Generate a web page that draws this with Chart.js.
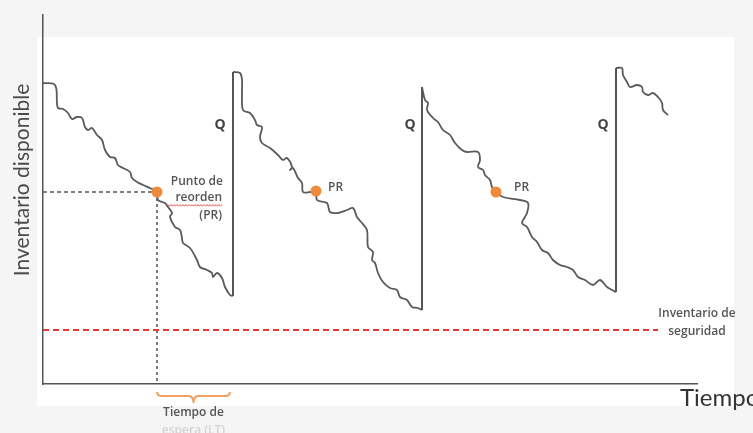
<!DOCTYPE html>
<html>
<head>
<meta charset="utf-8">
<script src="https://cdn.jsdelivr.net/npm/chart.js@4.4.1/dist/chart.umd.min.js"></script>
<style>
  html, body { margin: 0; padding: 0; background: #f4f4f4; }
  #wrap { width: 753px; height: 433px; }
</style>
</head>
<body>
<div id="wrap"><canvas id="c" width="753" height="433"></canvas></div>
<script>
// ---- Data (x = time units, y = inventory units) ----
const cycle1X = [0,12,14,15,20,25,29,34,39,42,45,49,54,59,62,67,72,75,80,87,89,94,100,107,114,115,122,125,129,127,132,137,139,140,147,154,157,164,169,170,174,179,182,187,190];
const cycle1Y = [301,299,281,276,275,271,265,267,266,257,254,256,249,244,234,227,226,219,216,212,206,202,199,196,192,184,181,177,171,167,157,154,146,141,136,124,117,114,111,107,111,106,97,89,88];

const cycle2X = [190,197,199,199,200,207,212,214,219,217,219,227,235,240,244,249,247,250,255,259,260,267,273,274,284,287,295,304,310,314,319,324,325,330,329,332,335,340,347,354,357,364,369,375,379];
const cycle2Y = [312,311,304,291,274,271,264,259,257,247,241,236,229,224,226,217,214,216,206,201,192,192,193,184,181,172,171,174,176,167,161,154,137,132,124,121,111,102,96,94,87,84,77,76,74];

const cycle3X = [379,382,385,384,390,395,400,407,412,419,424,435,437,435,440,442,447,449,453,460,477,485,484,479,484,489,494,499,505,510,517,524,530,535,542,550,557,564,569,573];
const cycle3Y = [297,284,281,274,266,262,254,249,241,234,232,232,224,217,214,209,204,197,192,187,184,181,171,161,157,147,142,134,131,124,119,117,114,107,104,99,104,97,94,92];

const cycle4X = [573,579,580,584,587,594,599,600,605,610,615,619,620,625];
const cycle4Y = [316,316,309,302,297,299,297,292,289,291,287,281,274,269];

// replenishment jumps (order quantity Q arrives)
const jumpX = [190, 379, 573];
const jumpLow = [88, 74, 92];
const jumpHigh = [312, 297, 316];

// reorder points (PR)
const prX = [114, 273, 453];
const prY = [192, 193, 192];

const safetyStock = 54;       // inventario de seguridad
const safetyEndX = 615;
const leadTimeStart = 114;    // PR1 time
const leadTimeEnd = 187;      // arrival of order

const xMax = 654, yMax = 369;

// ---- helpers ----
const pts = (xs, ys) => xs.map((x, i) => ({ x, y: ys[i] }));
const lineColor = '#5a5a5a';

const datasets = [
  { // PR dots (index 0 -> drawn on top)
    data: pts(prX, prY), showLine: false, pointRadius: 5.5, pointHoverRadius: 5.5,
    pointBackgroundColor: '#ef8a3a', pointBorderColor: '#ef8a3a', pointBorderWidth: 0
  },
  ...[[cycle1X, cycle1Y],[cycle2X, cycle2Y],[cycle3X, cycle3Y],[cycle4X, cycle4Y]].map(([xs, ys]) => ({
    data: pts(xs, ys), showLine: true, borderColor: lineColor, borderWidth: 1.8,
    tension: 0.35, pointRadius: 0, fill: false
  })),
  ...jumpX.map((x, i) => ({
    data: [{ x, y: jumpLow[i] }, { x, y: jumpHigh[i] }], showLine: true,
    borderColor: '#555', borderWidth: 2, tension: 0, pointRadius: 0
  })),
  { // safety stock
    data: [{ x: 0, y: safetyStock }, { x: safetyEndX, y: safetyStock }], showLine: true,
    borderColor: '#e53935', borderWidth: 2, borderDash: [6, 4], pointRadius: 0, tension: 0
  },
  { // horizontal dashed to reorder point
    data: [{ x: 0, y: prY[0] }, { x: prX[0], y: prY[0] }], showLine: true,
    borderColor: '#555', borderWidth: 1.4, borderDash: [4, 3], pointRadius: 0, tension: 0
  },
  { // vertical dashed from reorder point
    data: [{ x: prX[0], y: prY[0] }, { x: prX[0], y: 0 }], showLine: true,
    borderColor: '#444', borderWidth: 1.4, borderDash: [3, 3], pointRadius: 0, tension: 0
  }
];

const bgPlugin = {
  id: 'bg',
  beforeDraw(chart) {
    const ctx = chart.ctx;
    ctx.save();
    ctx.fillStyle = '#f5f5f5';
    ctx.fillRect(0, 0, chart.width, chart.height);
    ctx.fillStyle = '#ffffff';
    ctx.fillRect(37, 37, 697, 369);
    ctx.restore();
  }
};

const textPlugin = {
  id: 'texts',
  afterDraw(chart) {
    const ctx = chart.ctx;
    const xs = chart.scales.x, ys = chart.scales.y;
    ctx.save();
    // Y axis title
    ctx.save();
    ctx.translate(22, 180);
    ctx.rotate(-Math.PI / 2);
    ctx.font = '21px Lato';
    ctx.fillStyle = '#4a4a4a';
    ctx.textAlign = 'center';
    ctx.textBaseline = 'middle';
    ctx.fillText('Inventario disponible', 0, 0);
    ctx.restore();

    // X axis title (clipped by the right edge like the original)
    ctx.font = '24px Lato';
    ctx.fillStyle = '#333';
    ctx.textAlign = 'left';
    ctx.textBaseline = 'alphabetic';
    ctx.fillText('Tiempo', 680, 406);

    // Q labels
    ctx.font = 'bold 14px "Open Sans"';
    ctx.fillStyle = '#444';
    ctx.textAlign = 'center';
    ctx.textBaseline = 'middle';
    const qOff = [-13, -12, -13];
    jumpX.forEach((x, i) => ctx.fillText('Q', xs.getPixelForValue(x) + qOff[i], 125));

    // PR labels
    ctx.font = '600 12px "Open Sans"';
    ctx.fillStyle = '#555';
    ctx.textAlign = 'left';
    ctx.fillText('PR', xs.getPixelForValue(prX[1]) + 12, 188);
    ctx.fillText('PR', xs.getPixelForValue(prX[2]) + 18, 188);

    // Punto de reorden (PR)
    ctx.textAlign = 'right';
    ctx.fillText('Punto de', 223, 182);
    ctx.fillText('reorden', 222, 198);
    ctx.fillText('(PR)', 222, 216);
    // red spell-check squiggle under "reorden"
    ctx.strokeStyle = '#e05050';
    ctx.lineWidth = 1;
    ctx.beginPath();
    for (let x = 168; x <= 223; x += 1.5) {
      const y = 205 + ((Math.round((x - 168) / 1.5) % 2) ? 0.8 : -0.2);
      if (x === 168) ctx.moveTo(x, y); else ctx.lineTo(x, y);
    }
    ctx.stroke();

    // Inventario de seguridad
    ctx.textAlign = 'center';
    ctx.fillStyle = '#555';
    ctx.font = '600 12px "Open Sans"';
    ctx.fillText('Inventario de', 697, 314);
    ctx.fillText('seguridad', 697, 332);

    // Lead-time brace
    const x0 = xs.getPixelForValue(leadTimeStart), x1 = xs.getPixelForValue(leadTimeEnd);
    const xm = (x0 + x1) / 2, yb = ys.getPixelForValue(0);
    ctx.strokeStyle = '#f0a060';
    ctx.lineWidth = 2;
    ctx.beginPath();
    ctx.moveTo(x0, yb + 8);
    ctx.quadraticCurveTo(x0, yb + 12, x0 + 5, yb + 12);
    ctx.lineTo(xm - 5, yb + 12);
    ctx.quadraticCurveTo(xm, yb + 12, xm, yb + 19);
    ctx.quadraticCurveTo(xm, yb + 12, xm + 5, yb + 12);
    ctx.lineTo(x1 - 5, yb + 12);
    ctx.quadraticCurveTo(x1, yb + 12, x1, yb + 8);
    ctx.stroke();

    ctx.font = '600 12px "Open Sans"';
    ctx.fillStyle = '#555';
    ctx.textAlign = 'center';
    ctx.fillText('Tiempo de', xm, 413);
    ctx.fillStyle = '#d3d3d3';
    ctx.fillText('espera (LT)', xm, 431);
    ctx.restore();
  }
};

new Chart(document.getElementById('c'), {
  type: 'scatter',
  data: { datasets },
  options: {
    responsive: false,
    animation: false,
    events: [],
    layout: { padding: { left: 43, top: 15, right: 56, bottom: 49 } },
    plugins: { legend: { display: false }, tooltip: { enabled: false } },
    scales: {
      x: {
        type: 'linear', min: 0, max: xMax,
        grid: { display: false }, ticks: { display: false },
        border: { display: true, color: '#555', width: 1.5 },
        afterFit: s => { s.height = 0; }
      },
      y: {
        type: 'linear', min: 0, max: yMax,
        grid: { display: false }, ticks: { display: false },
        border: { display: true, color: '#555', width: 1.5 },
        afterFit: s => { s.width = 0; }
      }
    }
  },
  plugins: [bgPlugin, textPlugin]
});
</script>
</body>
</html>
